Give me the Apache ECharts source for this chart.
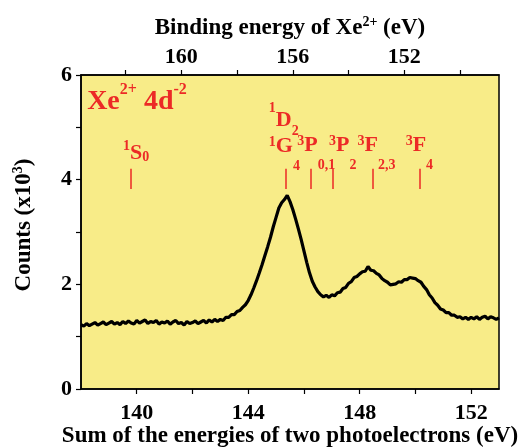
<!DOCTYPE html>
<html>
<head>
<meta charset="utf-8">
<script src="https://cdn.jsdelivr.net/npm/echarts@6/dist/echarts.min.js"></script>
<style>
  html, body { margin: 0; padding: 0; background: #fff; }
  #chart { width: 523px; height: 447px; }
</style>
</head>
<body>
<div id="chart"></div>
<script>
// spectrum (sum energy in eV, counts in 10^3)
const energies = [
  138.0, 138.1, 138.2, 138.3, 138.4, 138.5, 138.6, 138.7, 138.8, 138.9,
  139.0, 139.1, 139.2, 139.3, 139.4, 139.5, 139.6, 139.7, 139.8, 139.9,
  140.0, 140.1, 140.2, 140.3, 140.4, 140.5, 140.6, 140.7, 140.8, 140.9,
  141.0, 141.1, 141.2, 141.3, 141.4, 141.5, 141.6, 141.7, 141.8, 141.9,
  142.0, 142.1, 142.2, 142.3, 142.4, 142.5, 142.6, 142.7, 142.8, 142.9,
  143.0, 143.1, 143.2, 143.3, 143.4, 143.5, 143.6, 143.7, 143.8, 143.9,
  144.0, 144.1, 144.2, 144.3, 144.4, 144.5, 144.6, 144.7, 144.8, 144.9,
  145.0, 145.1, 145.2, 145.3, 145.4, 145.5, 145.6, 145.7, 145.8, 145.9,
  146.0, 146.1, 146.2, 146.3, 146.4, 146.5, 146.6, 146.7, 146.8, 146.9,
  147.0, 147.1, 147.2, 147.3, 147.4, 147.5, 147.6, 147.7, 147.8, 147.9,
  148.0, 148.1, 148.2, 148.3, 148.4, 148.5, 148.6, 148.7, 148.8, 148.9,
  149.0, 149.1, 149.2, 149.3, 149.4, 149.5, 149.6, 149.7, 149.8, 149.9,
  150.0, 150.1, 150.2, 150.3, 150.4, 150.5, 150.6, 150.7, 150.8, 150.9,
  151.0, 151.1, 151.2, 151.3, 151.4, 151.5, 151.6, 151.7, 151.8, 151.9,
  152.0, 152.1, 152.2, 152.3, 152.4, 152.5, 152.6, 152.7, 152.8, 152.9,
  153.0
];
const counts = [
  1.23, 1.20, 1.25, 1.21, 1.24, 1.27, 1.22, 1.25, 1.28, 1.23,
  1.26, 1.29, 1.24, 1.27, 1.23, 1.29, 1.25, 1.30, 1.26, 1.24,
  1.31, 1.26, 1.29, 1.32, 1.25, 1.29, 1.27, 1.31, 1.24, 1.28,
  1.26, 1.30, 1.24, 1.28, 1.31, 1.25, 1.27, 1.22, 1.29, 1.25,
  1.27, 1.30, 1.25, 1.28, 1.31, 1.26, 1.32, 1.28, 1.33, 1.29,
  1.33, 1.31, 1.37, 1.37, 1.42, 1.42, 1.48, 1.50, 1.56, 1.61,
  1.69, 1.80, 1.93, 2.07, 2.22, 2.38, 2.55, 2.72, 2.90, 3.10,
  3.28, 3.46, 3.56, 3.62, 3.70, 3.58, 3.43, 3.25, 3.06, 2.86,
  2.64, 2.42, 2.22, 2.06, 1.95, 1.86, 1.80, 1.76, 1.79, 1.75,
  1.80, 1.78, 1.84, 1.85, 1.92, 1.94, 2.02, 2.05, 2.13, 2.15,
  2.20, 2.24, 2.25, 2.34, 2.27, 2.26, 2.21, 2.18, 2.11, 2.07,
  2.04, 1.99, 2.00, 2.01, 2.05, 2.04, 2.09, 2.09, 2.13, 2.12,
  2.11, 2.07, 2.04, 1.96, 1.90, 1.80, 1.74, 1.65, 1.60, 1.53,
  1.51, 1.46, 1.46, 1.41, 1.41, 1.37, 1.38, 1.34, 1.37, 1.33,
  1.37, 1.34, 1.38, 1.33, 1.37, 1.39, 1.34, 1.38, 1.36, 1.33,
  1.36
];

// axes
const sumRange = [138, 153];
const sumTicks = [140, 142, 144, 146, 148, 150, 152];
const sumTickLabels = [140, 144, 148, 152];
const totalEnergy = 301.6; // binding energy = totalEnergy - sum
const bindingTicks = [150, 152, 154, 156, 158, 160, 162];
const bindingTickLabels = [152, 156, 160];
const countRange = [0, 6];

// Xe2+ 4d-2 final states
const termNames = [
  '{supS|1}{m|S}{low|0}', '{supD|1}{m|D}{subD|2}', '{sup|1}{m|G}{sub|4}',
  '{sup|3}{m|P}{sub|0,1}', '{sup|3}{m|P}{sub|2}', '{sup|3}{m|F}{sub|2,3}',
  '{sup|3}{m|F}{sub|4}'
];
const termLabelAt = [
  [139.51, 4.51], [144.74, 5.13], [144.74, 4.64],
  [145.76, 4.66], [146.90, 4.66], [147.92, 4.66], [149.65, 4.66]
];
const termTickEnergies = [139.8, 145.33, 146.24, 147.02, 148.46, 150.16];
const termTickSpan = [3.82, 4.21];
const stateLabel = '{m|Xe}{sup|2+}{m| 4d}{sup|-2}';
const stateLabelAt = [138.22, 5.48];

const serif = "'Liberation Serif', 'Times New Roman', serif";
const red = '#ec2a26';

const chart = echarts.init(document.getElementById('chart'));

const axisText = { color: '#000', fontFamily: serif, fontWeight: 'bold', fontSize: 22 };
const redText = { fontFamily: serif, fontWeight: 'bold', color: red };
// small indices are shifted with padding inside a 40px line
const index = (top) => ({ ...redText, fontSize: 14, lineHeight: 8, verticalAlign: 'top', padding: [top, 0, 0, 0] });
const termRich = {
  m: { ...redText, fontSize: 22, lineHeight: 40, verticalAlign: 'middle' },
  sup: index(9),
  supS: index(6),
  supD: index(1),
  sub: index(33),
  subD: index(24),
  low: index(17)
};
const nameRich = { sup: { color: '#000', fontFamily: serif, fontWeight: 'bold', fontSize: 14, lineHeight: 14, verticalAlign: 'top' } };

const option = {
  animation: false,
  backgroundColor: '#fff',
  grid: {
    left: 81, right: 24, top: 75, bottom: 58,
    outerBoundsMode: 'none',
    containLabel: false,
    show: true,
    backgroundColor: '#f8ec88',
    borderColor: '#000',
    borderWidth: 1.5
  },
  xAxis: [
    {
      type: 'value',
      position: 'bottom',
      min: sumRange[0],
      max: sumRange[1],
      name: 'Sum of the energies of two photoelectrons (eV)',
      nameLocation: 'middle',
      nameGap: 34,
      nameMoveOverlap: false,
      nameTextStyle: { color: '#000', fontFamily: serif, fontWeight: 'bold', fontSize: 23, lineHeight: 26 },
      axisLine: { show: true, onZero: false, lineStyle: { color: '#000', width: 1.5 } },
      axisTick: { show: true, length: 5, lineStyle: { color: '#000', width: 1.2 }, customValues: sumTicks },
      axisLabel: { ...axisText, margin: 13, customValues: sumTickLabels },
      splitLine: { show: false }
    },
    {
      type: 'value',
      position: 'top',
      inverse: true,
      min: totalEnergy - sumRange[1],
      max: totalEnergy - sumRange[0],
      name: 'Binding energy of Xe{sup|2+} (eV)',
      nameLocation: 'middle',
      nameGap: 34,
      nameMoveOverlap: false,
      nameTextStyle: { color: '#000', fontFamily: serif, fontWeight: 'bold', fontSize: 23, lineHeight: 26, rich: nameRich },
      axisLine: { show: true, onZero: false, lineStyle: { color: '#000', width: 1.5 } },
      axisTick: { show: true, length: 5, lineStyle: { color: '#000', width: 1.2 }, customValues: bindingTicks },
      axisLabel: { ...axisText, margin: 7, customValues: bindingTickLabels },
      splitLine: { show: false }
    }
  ],
  yAxis: {
    type: 'value',
    min: countRange[0],
    max: countRange[1],
    interval: 1,
    name: 'Counts (x10{sup|3})',
    nameLocation: 'middle',
    nameGap: 44,
    nameMoveOverlap: false,
    nameTextStyle: {
      color: '#000', fontFamily: serif, fontWeight: 'bold', fontSize: 23, lineHeight: 26,
      padding: [0, 0, 0, 14],
      rich: nameRich
    },
    axisLine: { show: true, onZero: false, lineStyle: { color: '#000', width: 1.5 } },
    axisTick: { show: true, length: 5, lineStyle: { color: '#000', width: 1.2 } },
    axisLabel: { ...axisText, margin: 9, formatter: v => (v % 2 === 0 ? String(v) : '') },
    splitLine: { show: false }
  },
  series: [
    {
      type: 'line',
      xAxisIndex: 0,
      data: energies.map((e, i) => [e, counts[i]]),
      showSymbol: false,
      symbol: 'none',
      lineStyle: { color: '#000', width: 3.2 },
      silent: true
    },
    {
      type: 'scatter',
      xAxisIndex: 0,
      symbolSize: 0,
      silent: true,
      itemStyle: { opacity: 1 },
      data: termLabelAt.map((p, i) => ({ value: p, name: termNames[i] })),
      label: {
        show: true,
        position: 'right',
        distance: 0,
        formatter: p => p.name,
        rich: termRich
      },
      markLine: {
        silent: true,
        symbol: 'none',
        label: { show: false },
        lineStyle: { color: red, width: 1.5, type: 'solid', opacity: 1 },
        data: termTickEnergies.map(e => [{ coord: [e, termTickSpan[0]] }, { coord: [e, termTickSpan[1]] }])
      }
    },
    {
      type: 'scatter',
      xAxisIndex: 0,
      symbolSize: 0,
      silent: true,
      itemStyle: { opacity: 1 },
      data: [{ value: stateLabelAt, name: stateLabel }],
      label: {
        show: true,
        position: 'right',
        distance: 0,
        formatter: p => p.name,
        rich: {
          m: { ...redText, fontSize: 28, lineHeight: 40, verticalAlign: 'middle' },
          sup: { ...redText, fontSize: 16, lineHeight: 16, verticalAlign: 'top' }
        }
      }
    }
  ]
};

chart.setOption(option);
</script>
</body>
</html>
